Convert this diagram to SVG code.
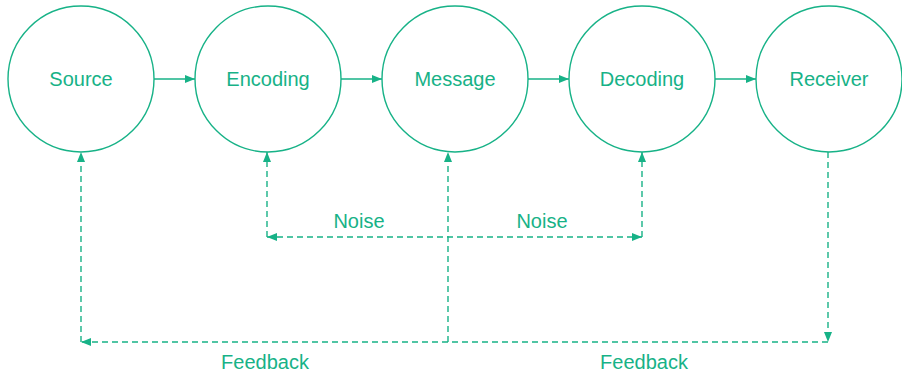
<svg xmlns="http://www.w3.org/2000/svg" width="902" height="373" viewBox="0 0 902 373">
  <style>
    .node circle { fill: #ffffff; stroke: #17b287; stroke-width: 1.4; }
    .label { font-family: "Liberation Sans", Arial, Helvetica, sans-serif; font-size: 20px; fill: #17b287; text-anchor: middle; }
    .flow { fill: none; stroke: #17b287; stroke-width: 1.4; }
    .dash { fill: none; stroke: #17b287; stroke-width: 1.4; stroke-dasharray: 6 4; }
  </style>
  <defs>
    <marker id="arrow" viewBox="0 0 10 8" refX="10" refY="4" markerWidth="10" markerHeight="8" markerUnits="userSpaceOnUse" orient="auto-start-reverse">
      <path d="M0,0 L10,4 L0,8 Z" fill="#17b287"/>
    </marker>
  </defs>
  <rect width="902" height="373" fill="#ffffff"/>

  <!-- connectors -->
  <g id="connectors">
    <line class="flow" x1="154" y1="79" x2="195" y2="79" marker-end="url(#arrow)"/>
    <line class="flow" x1="341" y1="79" x2="382" y2="79" marker-end="url(#arrow)"/>
    <line class="flow" x1="528" y1="79" x2="569" y2="79" marker-end="url(#arrow)"/>
    <line class="flow" x1="715" y1="79" x2="756" y2="79" marker-end="url(#arrow)"/>

    <!-- noise paths -->
    <path class="dash" d="M267,237 L267,152" marker-end="url(#arrow)"/>
    <path class="dash" d="M642,237 L642,152" marker-end="url(#arrow)"/>
    <line class="dash" x1="267" y1="237" x2="642" y2="237" marker-start="url(#arrow)" marker-end="url(#arrow)"/>

    <!-- feedback paths -->
    <path class="dash" d="M448,342 L448,152" marker-end="url(#arrow)"/>
    <path class="dash" d="M81,342 L81,152" marker-end="url(#arrow)"/>
    <path class="dash" d="M828,152 L828,342" marker-end="url(#arrow)"/>
    <line class="dash" x1="828" y1="342" x2="81" y2="342" marker-end="url(#arrow)"/>
  </g>

  <g id="source" class="node">
    <circle cx="81" cy="79" r="73"/>
    <text class="label" x="81" y="86">Source</text>
  </g>
  <g id="encoding" class="node">
    <circle cx="268" cy="79" r="73"/>
    <text class="label" x="268" y="86">Encoding</text>
  </g>
  <g id="message" class="node">
    <circle cx="455" cy="79" r="73"/>
    <text class="label" x="455" y="86">Message</text>
  </g>
  <g id="decoding" class="node">
    <circle cx="642" cy="79" r="73"/>
    <text class="label" x="642" y="86">Decoding</text>
  </g>
  <g id="receiver" class="node">
    <circle cx="829" cy="79" r="73"/>
    <text class="label" x="829" y="86">Receiver</text>
  </g>

  <g id="labels">
    <text class="label" x="359" y="228">Noise</text>
    <text class="label" x="542" y="228">Noise</text>
    <text class="label" x="265" y="369">Feedback</text>
    <text class="label" x="644" y="369">Feedback</text>
  </g>
</svg>
